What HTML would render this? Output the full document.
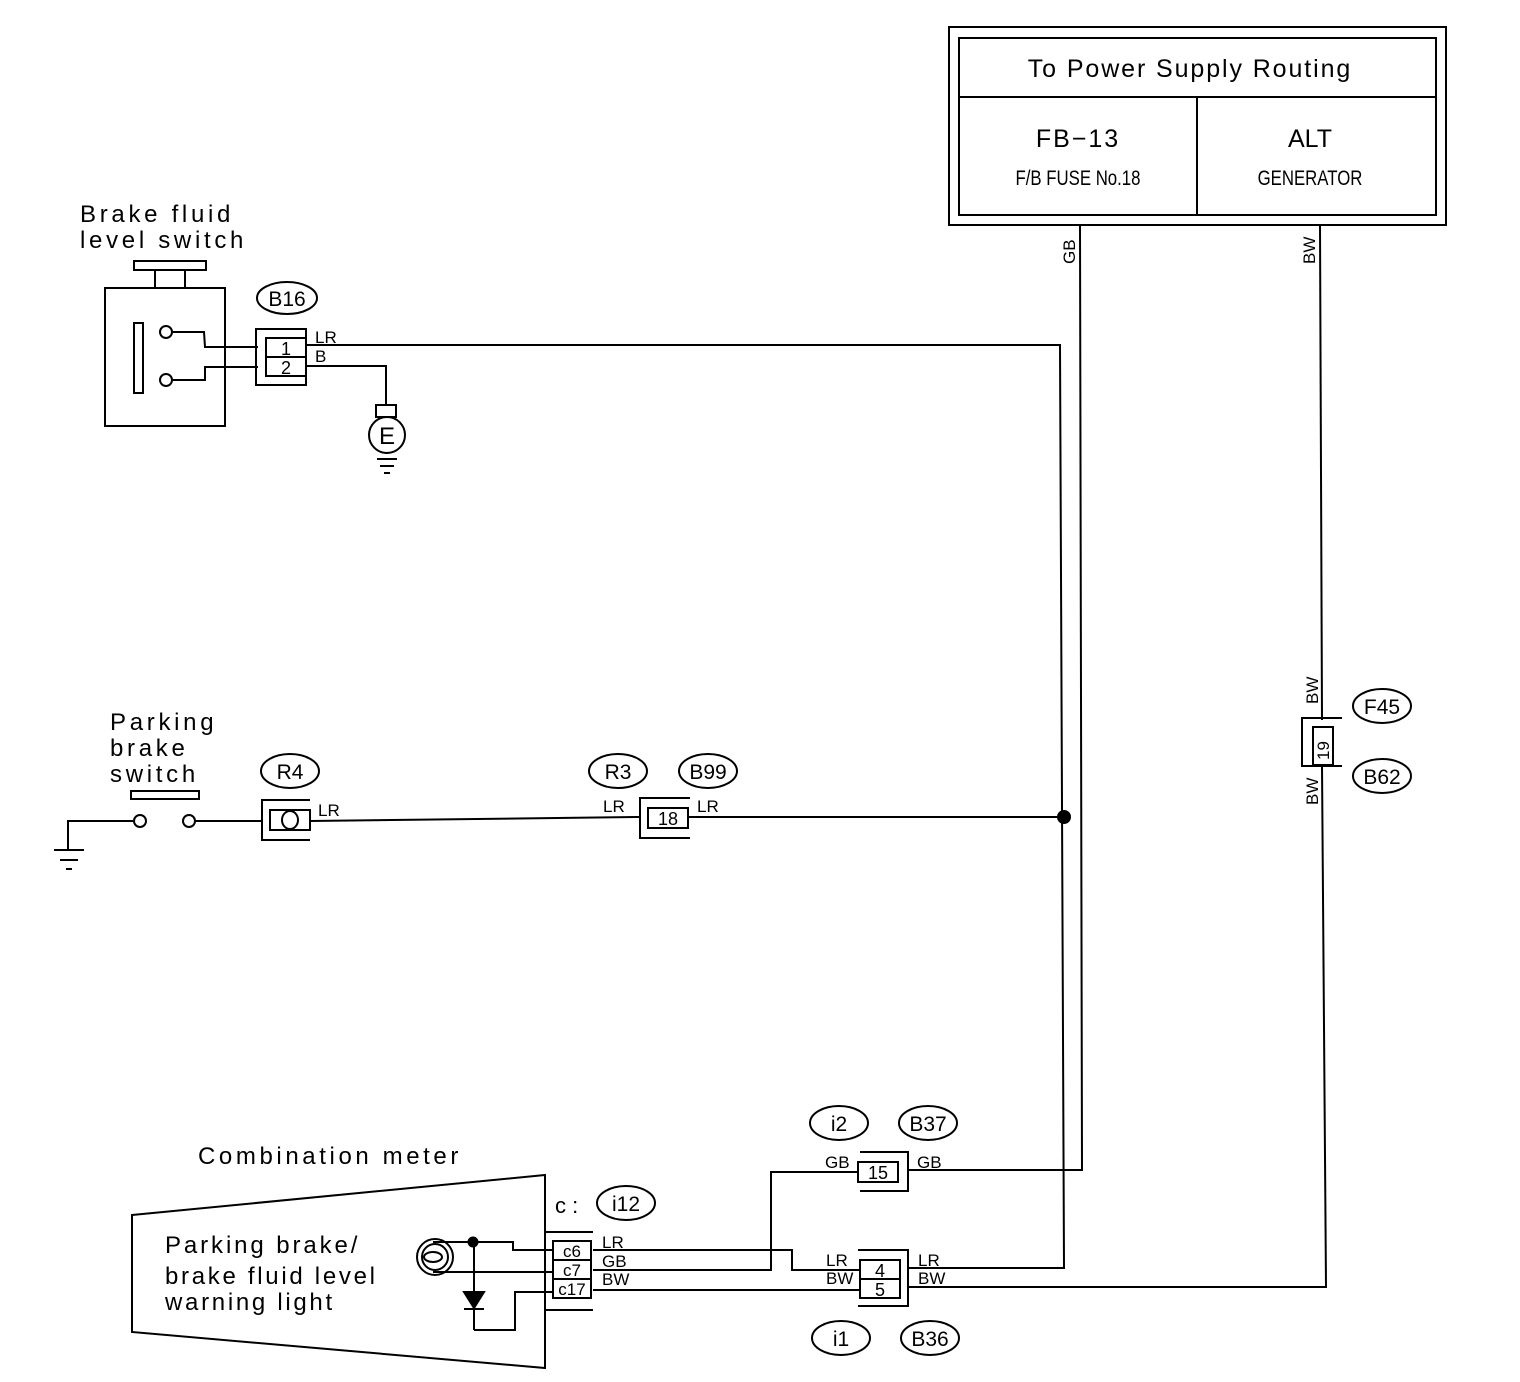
<!DOCTYPE html>
<html><head><meta charset="utf-8"><style>
html,body{margin:0;padding:0;background:#fff;}
svg{display:block;}
text{font-family:"Liberation Sans",sans-serif;fill:#000;}
.n{font-family:"Liberation Sans Narrow","Liberation Sans",sans-serif;}
.t{letter-spacing:3.7px;}
.w{font-size:17px;}
</style></head><body>
<svg width="1520" height="1382" viewBox="0 0 1520 1382" xmlns="http://www.w3.org/2000/svg" fill="none" stroke="#000" stroke-width="2">
<!-- Power supply box -->
<rect x="949" y="27" width="497" height="198"/>
<rect x="959" y="38" width="477" height="177"/>
<line x1="959" y1="97" x2="1436" y2="97"/>
<line x1="1197" y1="97" x2="1197" y2="215"/>
<g stroke="none">
<text x="1190" y="77" font-size="25" text-anchor="middle" letter-spacing="1.9">To Power Supply Routing</text>
<text x="1078" y="147" font-size="25" text-anchor="middle" letter-spacing="2">FB−13</text>
<text x="1078" y="185" font-size="21" text-anchor="middle" transform="translate(1078 0) scale(0.8 1) translate(-1078 0)">F/B FUSE No.18</text>
<text x="1310" y="147" font-size="25" text-anchor="middle">ALT</text>
<text x="1310" y="185" font-size="21" text-anchor="middle" transform="translate(1310 0) scale(0.8 1) translate(-1310 0)">GENERATOR</text>
<text font-size="17" transform="translate(1075 264) rotate(-90)">GB</text>
<text font-size="17" transform="translate(1315 264) rotate(-90)">BW</text>
</g>
<!-- GB wire -->
<polyline points="1080,225 1082,1170 908,1170"/>
<!-- BW wire -->
<polyline points="1320,225 1322,720"/>
<polyline points="1322,766 1326,1287 908,1287"/>
<!-- LR wire -->
<polyline points="305,345 1060,345 1064,1268 908,1268"/>
<circle cx="1064" cy="817" r="6" fill="#000"/>
<line x1="688" y1="817" x2="1064" y2="817"/>

<!-- Brake fluid level switch -->
<g stroke="none">
<text x="80" y="222" font-size="24" class="t">Brake fluid</text>
<text x="80" y="248" font-size="24" class="t" letter-spacing="3.4">level switch</text>
</g>
<rect x="134" y="261" width="72" height="9"/>
<line x1="155" y1="270" x2="155" y2="288"/><line x1="185" y1="270" x2="185" y2="288"/>
<rect x="105" y="288" width="120" height="138"/>
<rect x="134" y="323" width="9" height="70"/>
<circle cx="166" cy="332" r="6"/><circle cx="166" cy="380" r="6"/>
<polyline points="172,332 204,332 205,347 258,347"/>
<polyline points="172,380 205,380 205,367 258,367"/>
<rect x="256" y="329" width="50" height="56"/>
<rect x="266" y="338" width="40" height="38"/>
<line x1="266" y1="357" x2="306" y2="357"/>
<polyline points="306,366 386,366 386,405"/>
<rect x="376" y="405" width="20" height="12"/>
<circle cx="387" cy="435" r="18"/>
<line x1="377" y1="459" x2="397" y2="459"/><line x1="380" y1="466" x2="394" y2="466"/><line x1="384" y1="473" x2="390" y2="473"/>
<ellipse cx="287" cy="298" rx="30" ry="16"/>
<g stroke="none">
<text x="287" y="306" font-size="21" text-anchor="middle" class="n">B16</text>
<text x="286" y="355" font-size="18" text-anchor="middle">1</text>
<text x="286" y="374" font-size="18" text-anchor="middle">2</text>
<text x="315" y="343" class="w">LR</text>
<text x="315" y="362" class="w">B</text>
<text x="387" y="444" font-size="24" text-anchor="middle">E</text>
</g>

<!-- Parking brake switch -->
<g stroke="none">
<text x="110" y="730" font-size="24" class="t" letter-spacing="3.3">Parking</text>
<text x="110" y="756" font-size="24" class="t" letter-spacing="3.3">brake</text>
<text x="110" y="782" font-size="24" class="t" letter-spacing="3.3">switch</text>
</g>
<rect x="131" y="791" width="68" height="8"/>
<polyline points="68,850 68,821 133,821"/>
<circle cx="140" cy="821" r="6"/><circle cx="189" cy="821" r="6"/>
<line x1="195" y1="821" x2="262" y2="821"/>
<line x1="54" y1="850" x2="84" y2="850"/><line x1="60" y1="860" x2="78" y2="860"/><line x1="66" y1="869" x2="72" y2="869"/>
<polyline points="310,800 262,800 262,840 310,840"/>
<rect x="270" y="810" width="40" height="20"/>
<ellipse cx="290" cy="820" rx="8" ry="9"/>
<line x1="310" y1="821" x2="640" y2="817"/>
<ellipse cx="290" cy="771" rx="29" ry="17"/>
<polyline points="690,798 640,798 640,838 690,838"/>
<rect x="648" y="808" width="40" height="20"/>
<ellipse cx="618" cy="771" rx="29" ry="17"/>
<ellipse cx="708" cy="771" rx="29" ry="17"/>
<g stroke="none">
<text x="290" y="779" font-size="21" text-anchor="middle" class="n">R4</text>
<text x="318" y="816" class="w">LR</text>
<text x="618" y="779" font-size="21" text-anchor="middle" class="n">R3</text>
<text x="708" y="779" font-size="21" text-anchor="middle" class="n">B99</text>
<text x="603" y="812" class="w">LR</text>
<text x="697" y="812" class="w">LR</text>
<text x="668" y="825" font-size="18" text-anchor="middle">18</text>
</g>

<!-- F45/B62 connector -->
<polyline points="1342,718 1302,718 1302,766 1342,766"/>
<rect x="1313" y="727" width="20" height="38"/>
<ellipse cx="1382" cy="706" rx="29" ry="17"/>
<ellipse cx="1382" cy="776" rx="29" ry="17"/>
<g stroke="none">
<text x="1382" y="714" font-size="21" text-anchor="middle" class="n">F45</text>
<text x="1382" y="784" font-size="21" text-anchor="middle" class="n">B62</text>
<text font-size="17" transform="translate(1329 760) rotate(-90)">19</text>
<text font-size="17" transform="translate(1318 704) rotate(-90)">BW</text>
<text font-size="17" transform="translate(1318 805) rotate(-90)">BW</text>
</g>

<!-- i2/B37 -->
<ellipse cx="839" cy="1123" rx="29" ry="17"/>
<ellipse cx="928" cy="1123" rx="29" ry="17"/>
<polyline points="860,1152 908,1152 908,1191 860,1191"/>
<rect x="858" y="1162" width="40" height="20"/>
<polyline points="858,1172 771,1172 771,1270 593,1270"/>
<g stroke="none">
<text x="839" y="1131" font-size="21" text-anchor="middle" class="n">i2</text>
<text x="928" y="1131" font-size="21" text-anchor="middle" class="n">B37</text>
<text x="825" y="1168" class="w">GB</text>
<text x="917" y="1168" class="w">GB</text>
<text x="878" y="1179" font-size="18" text-anchor="middle">15</text>
</g>

<!-- i1/B36 -->
<polyline points="858,1250 908,1250 908,1306 858,1306"/>
<rect x="860" y="1260" width="40" height="38"/>
<line x1="860" y1="1279" x2="900" y2="1279"/>
<polyline points="593,1250 792,1250 792,1270 860,1270"/>
<line x1="593" y1="1290" x2="860" y2="1290"/>
<ellipse cx="841" cy="1338" rx="29" ry="17"/>
<ellipse cx="930" cy="1338" rx="29" ry="17"/>
<g stroke="none">
<text x="841" y="1346" font-size="21" text-anchor="middle" class="n">i1</text>
<text x="930" y="1346" font-size="21" text-anchor="middle" class="n">B36</text>
<text x="826" y="1266" class="w">LR</text>
<text x="826" y="1284" class="w">BW</text>
<text x="918" y="1266" class="w">LR</text>
<text x="918" y="1284" class="w">BW</text>
<text x="880" y="1277" font-size="18" text-anchor="middle">4</text>
<text x="880" y="1296" font-size="18" text-anchor="middle">5</text>
</g>

<!-- Combination meter -->
<g stroke="none">
<text x="198" y="1164" font-size="24" letter-spacing="3.6">Combination meter</text>
<text x="165" y="1253" font-size="24" letter-spacing="2.9">Parking brake/</text>
<text x="165" y="1284" font-size="24" letter-spacing="2.7">brake fluid level</text>
<text x="165" y="1310" font-size="24" letter-spacing="2.7">warning light</text>
<text x="555" y="1213" font-size="22">c :</text>
</g>
<polygon points="132,1215 545,1175 545,1368 132,1332"/>
<ellipse cx="626" cy="1203" rx="29" ry="17"/>
<g stroke="none"><text x="626" y="1211" font-size="21" text-anchor="middle" class="n">i12</text></g>
<polyline points="545,1232 593,1232"/><line x1="545" y1="1310" x2="593" y2="1310"/>
<rect x="553" y="1241" width="38" height="57"/>
<line x1="553" y1="1260" x2="591" y2="1260"/><line x1="553" y1="1279" x2="591" y2="1279"/>
<g stroke="none">
<text x="572" y="1257" font-size="17" text-anchor="middle">c6</text>
<text x="572" y="1276" font-size="17" text-anchor="middle">c7</text>
<text x="572" y="1295" font-size="17" text-anchor="middle">c17</text>
<text x="602" y="1248" class="w">LR</text>
<text x="602" y="1267" class="w">GB</text>
<text x="602" y="1285" class="w">BW</text>
</g>
<circle cx="435" cy="1257" r="18"/>
<circle cx="435" cy="1257" r="13"/>
<ellipse cx="433" cy="1257" rx="9" ry="5"/>
<polyline points="433,1242 513,1242 513,1250 553,1250"/>
<line x1="433" y1="1272" x2="553" y2="1272"/>
<circle cx="473" cy="1242" r="4.5" fill="#000"/>
<line x1="474" y1="1242" x2="474" y2="1330"/>
<polygon points="464,1292 484,1292 474,1308" fill="#000"/>
<line x1="464" y1="1309" x2="484" y2="1309"/>
<polyline points="474,1330 515,1330 515,1292 553,1292"/>
</svg>
</body></html>
